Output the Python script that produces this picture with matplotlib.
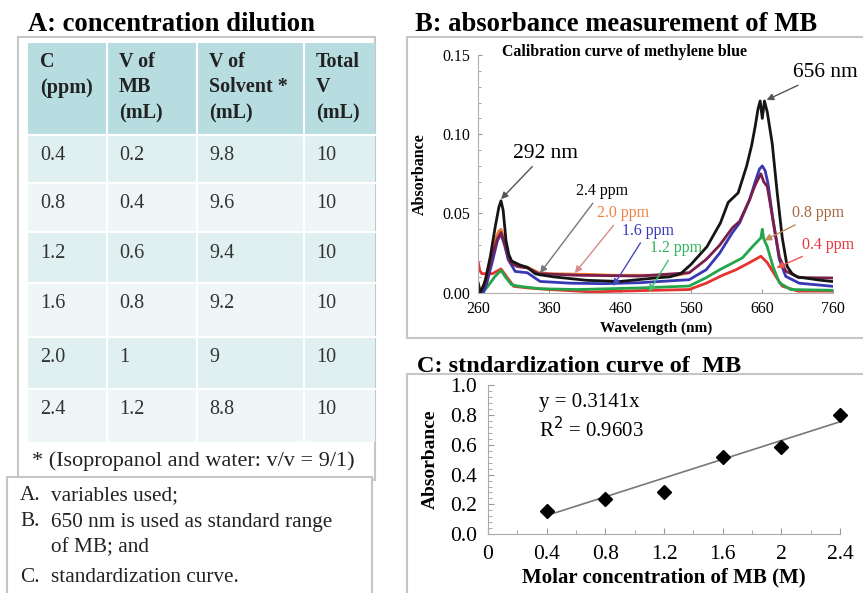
import numpy as np
import matplotlib
matplotlib.use("Agg")
import matplotlib.pyplot as plt
from matplotlib.patches import Rectangle

plt.rcParams['font.family'] = ['Liberation Serif', 'DejaVu Serif']

W, H = 863, 593

# ---- panel A table data
tbl_header = ["C\n(ppm)", "V of\nMB\n(mL)", "V of\nSolvent *\n(mL)", "Total\nV\n(mL)"]
conc_ppm = ["0.4", "0.8", "1.2", "1.6", "2.0", "2.4"]
vol_mb = ["0.2", "0.4", "0.6", "0.8", "1", "1.2"]
vol_solvent = ["9.8", "9.6", "9.4", "9.2", "9", "8.8"]
vol_total = ["10", "10", "10", "10", "10", "10"]
footnote = "* (Isopropanol and water: v/v = 9/1)"
notes = [("A.", "variables used;"), ("B.", "650 nm is used as standard range"),
         ("", "of MB; and"), ("C.", "standardization curve.")]

# ---- panel B spectra (wavelength nm, absorbance)
wl_black = [260, 263, 266, 270, 277, 284, 289, 292, 295, 299, 303, 307, 318, 329, 340, 347, 366, 413,
            460, 507, 530, 545, 559, 582, 601, 612, 626, 638, 645, 650, 654, 657, 660, 663, 667,
            674, 681, 688, 695, 702, 709, 740, 760]
abs_black = [0.006, 0.000, 0.003, 0.008, 0.023, 0.042, 0.054, 0.058, 0.052, 0.033, 0.024, 0.020,
             0.0176, 0.016, 0.012, 0.0113, 0.010, 0.0078, 0.0071, 0.0092, 0.010, 0.012, 0.0176,
             0.029, 0.044, 0.057, 0.063, 0.080, 0.093, 0.105, 0.116, 0.121, 0.110, 0.121, 0.114,
             0.094, 0.063, 0.035, 0.0166, 0.012, 0.010, 0.008, 0.007]

wl_orange = [262, 268, 278, 285, 289, 292, 295, 298, 303, 310, 320, 330, 345, 360, 413, 450, 500,
             540, 557]
abs_orange = [0.000, 0.005, 0.022, 0.035, 0.039, 0.040, 0.036, 0.030, 0.022, 0.0176, 0.0168, 0.016,
              0.0126, 0.012, 0.0116, 0.011, 0.011, 0.011, 0.0126]

wl_maroon = [262, 270, 280, 287, 292, 298, 305, 315, 330, 345, 400, 487, 557, 581, 600, 618, 628,
             642, 650, 655, 658, 662, 667, 675, 684, 693, 712, 760]
abs_maroon = [0.000, 0.006, 0.024, 0.034, 0.038, 0.030, 0.019, 0.0165, 0.0155, 0.012, 0.011, 0.0105,
              0.0126, 0.021, 0.030, 0.041, 0.045, 0.0586, 0.068, 0.0724, 0.075, 0.070, 0.067, 0.046,
              0.0225, 0.0136, 0.0095, 0.0093]

wl_blue = [267, 272, 280, 287, 292, 297, 302, 312, 329, 347, 390, 436, 487, 557, 581, 600, 618, 628,
           642, 650, 656, 660, 664, 668, 675, 684, 693, 712, 760]
abs_blue = [0.000, 0.006, 0.020, 0.033, 0.037, 0.030, 0.021, 0.0134, 0.0126, 0.0071, 0.006, 0.0057,
            0.0063, 0.0082, 0.0145, 0.025, 0.038, 0.044, 0.0586, 0.070, 0.078, 0.080, 0.077, 0.069,
            0.046, 0.021, 0.0103, 0.006, 0.004]

wl_green = [268, 275, 283, 292, 298, 307, 318, 347, 400, 487, 557, 581, 600, 618, 632, 646, 658,
            660, 662, 667, 675, 684, 700, 760]
abs_green = [0.001, 0.005, 0.010, 0.0141, 0.010, 0.005, 0.004, 0.0025, 0.002, 0.003, 0.0042, 0.0095,
             0.0145, 0.0187, 0.022, 0.029, 0.0346, 0.040, 0.034, 0.029, 0.0166, 0.0063, 0.002, 0.0015]

wl_red = [260, 262, 265, 280, 292, 300, 310, 330, 360, 420, 487, 557, 581, 604, 623, 642, 658,
          667, 679, 688, 710, 760]
abs_red = [0.019, 0.014, 0.012, 0.012, 0.015, 0.010, 0.004, 0.003, 0.002, 0.0005, 0.0013, 0.002,
           0.006, 0.011, 0.0145, 0.019, 0.023, 0.019, 0.0103, 0.0042, 0.001, 0.001]

# ---- panel C standardization
conc_c = [0.4, 0.8, 1.2, 1.6, 2.0, 2.4]
abs_c = [0.156, 0.234, 0.285, 0.516, 0.587, 0.80]
slope = 0.3141
r2 = 0.9603


def px_box(x0, y0, x1, y1):
    return [x0 / W, 1 - y1 / H, (x1 - x0) / W, (y1 - y0) / H]


fig = plt.figure(figsize=(W / 100, H / 100), dpi=100)
ov = fig.add_axes([0, 0, 1, 1], zorder=0)
ov.set_xlim(0, W)
ov.set_ylim(H, 0)
ov.axis('off')

frame_col = '#c6c6c6'

# ---------------- panel A
ov.text(28, 31, "A: concentration dilution", fontsize=19.2, fontweight='bold', va='baseline')
ov.add_patch(Rectangle((18, 37), 357, 443, fc='white', ec=frame_col, lw=1.5))

col_edges = [28, 107, 197, 304, 375]
row_edges = [43, 135, 183, 232, 283, 337, 389, 442]
row_cols = ['#b7dde1', '#e0f0f1', '#eff6f7', '#e0f0f1', '#eff6f7', '#e0f0f1', '#eff6f7']
for i in range(len(row_edges) - 1):
    ov.add_patch(Rectangle((col_edges[0], row_edges[i]), col_edges[-1] - col_edges[0],
                           row_edges[i + 1] - row_edges[i], fc=row_cols[i], ec='none'))
for x in col_edges[1:-1]:
    ov.plot([x, x], [row_edges[0], row_edges[-1]], color='white', lw=1.5)
for y in row_edges[1:-1]:
    ov.plot([col_edges[0], col_edges[-1]], [y, y], color='white', lw=1.5)

for j, head in enumerate(tbl_header):
    for k, line in enumerate(head.split("\n")):
        ov.text(col_edges[j] + 12, 62 + 25.5 * k, line, fontsize=14.5, fontweight='bold',
                va='center', color='#222222')

columns = [conc_ppm, vol_mb, vol_solvent, vol_total]
for j, col in enumerate(columns):
    for i, val in enumerate(col):
        ov.text(col_edges[j] + 12, row_edges[i + 1] + 21, val, fontsize=14.5, va='center',
                color='#333333')

ov.text(32, 461, footnote, fontsize=16, va='center', color='#222222')

ov.add_patch(Rectangle((7, 477), 365, 130, fc='white', ec=frame_col, lw=1.5))
note_y = [496, 522, 548, 578]
for (lab, txt), y in zip(notes, note_y):
    ov.text(20, y, lab, fontsize=15.3, va='center', color='#222222')
    ov.text(51, y, txt, fontsize=15.3, va='center', color='#222222')

# ---------------- panel B
ov.text(415, 31, "B: absorbance measurement of MB", fontsize=19.2, fontweight='bold', va='baseline')
ov.add_patch(Rectangle((407, 37), 470, 301, fc='white', ec=frame_col, lw=1.5))

axb = fig.add_axes(px_box(478.3, 55, 833.3, 292.7), zorder=2)
axb.patch.set_alpha(0)
spec = [(wl_orange, abs_orange, '#e97b35'), (wl_red, abs_red, '#e8322d'),
        (wl_green, abs_green, '#23a64b'), (wl_blue, abs_blue, '#3838b5'),
        (wl_maroon, abs_maroon, '#7a1f4c'), (wl_black, abs_black, '#151515')]
for wl, ab, c in spec:
    axb.plot(wl, ab, color=c, lw=2.0, solid_joinstyle='round')
axb.set_xlim(260, 760)
axb.set_ylim(0, 0.15)
axb.set_xticks([260, 360, 460, 560, 660, 760])
axb.set_yticks([0, 0.05, 0.10, 0.15])
axb.set_yticklabels(["0.00", "0.05", "0.10", "0.15"])
axb.set_yticks(np.arange(0, 0.151, 0.01), minor=True)
for s in ['top', 'right']:
    axb.spines[s].set_visible(False)
for s in ['left', 'bottom']:
    axb.spines[s].set_color('#b0b0b0')
axb.tick_params(direction='in', length=3, color='#999999', labelsize=11.5, pad=6)
axb.tick_params(which='minor', direction='in', length=2, color='#999999')
axb.set_xlabel("Wavelength (nm)", fontsize=11, fontweight='bold', labelpad=3)
axb.set_ylabel("Absorbance", fontsize=11.5, fontweight='bold', labelpad=10)
axb.text(466, 0.152, "Calibration curve of methylene blue", fontsize=11.4, fontweight='bold',
         ha='center', va='center')

ann = [("656 nm", (749, 0.139), (666, 0.1216), 'black', '#555555', 15.5),
       ("292 nm", (354, 0.088), (292, 0.059), 'black', '#555555', 15.5),
       ("2.4 ppm", (434, 0.064), (347, 0.0124), 'black', '#777777', 11.5),
       ("2.0 ppm", (464, 0.050), (396, 0.0124), '#ee8444', '#d98a8a', 11.5),
       ("1.6 ppm", (499, 0.039), (450, 0.0042), '#3a3ab8', '#4a4ac0', 11.5),
       ("1.2 ppm", (538, 0.028), (500, 0.0004), '#2db35a', '#40c070', 11.5),
       ("0.8 ppm", (738, 0.050), (663, 0.033), '#a8683e', '#c08a5a', 11.5),
       ("0.4 ppm", (752, 0.030), (680, 0.0156), '#e8363a', '#ee5555', 11.5)]
for txt, tpos, tip, tc, ac, fs in ann:
    axb.annotate(txt, xy=tip, xytext=tpos, ha='center', va='center', fontsize=fs, color=tc,
                 annotation_clip=False,
                 arrowprops=dict(arrowstyle='-|>', color=ac, lw=1.0, shrinkA=1, shrinkB=0,
                                 mutation_scale=10))

# ---------------- panel C
ov.text(417, 372, "C: stndardization curve of  MB", fontsize=17.5, fontweight='bold', va='baseline')
ov.add_patch(Rectangle((407, 374), 470, 240, fc='white', ec=frame_col, lw=1.5))

axc = fig.add_axes(px_box(488, 385, 840, 534.3), zorder=2)
axc.patch.set_alpha(0)
xfit = np.array([conc_c[0], conc_c[-1]])
axc.plot(xfit, slope * xfit, color='#777777', lw=1.2)
axc.plot(conc_c, abs_c, 'D', color='black', ms=7, clip_on=False)
axc.set_xlim(0, 2.4)
axc.set_ylim(0, 1.0)
axc.set_xticks([0, 0.4, 0.8, 1.2, 1.6, 2.0, 2.4])
axc.set_xticklabels(["0", "0.4", "0.8", "1.2", "1.6", "2", "2.4"])
axc.set_xticks(np.arange(0, 2.41, 0.2), minor=True)
axc.set_yticks(np.arange(0, 1.01, 0.2))
axc.set_yticklabels(["0.0", "0.2", "0.4", "0.6", "0.8", "1.0"])
axc.set_yticks(np.arange(0, 1.001, 0.04), minor=True)
for s in ['top', 'right']:
    axc.spines[s].set_visible(False)
for s in ['left', 'bottom']:
    axc.spines[s].set_color('#aaaaaa')
axc.tick_params(direction='in', length=4, color='#999999', labelsize=15.5, pad=8)
axc.tick_params(which='minor', direction='in', length=3, color='#999999')
axc.set_xlabel("Molar concentration of MB (M)", fontsize=15, fontweight='bold', labelpad=2)
axc.set_ylabel("Absorbance", fontsize=14, fontweight='bold', labelpad=8)
axc.text(0.35, 0.88, "y = %.4fx" % slope, fontsize=15, va='center')
axc.text(0.35, 0.70, "R$^{2}$ = %.4f" % r2, fontsize=15, va='center')

fig.savefig("out.png", dpi=100)
